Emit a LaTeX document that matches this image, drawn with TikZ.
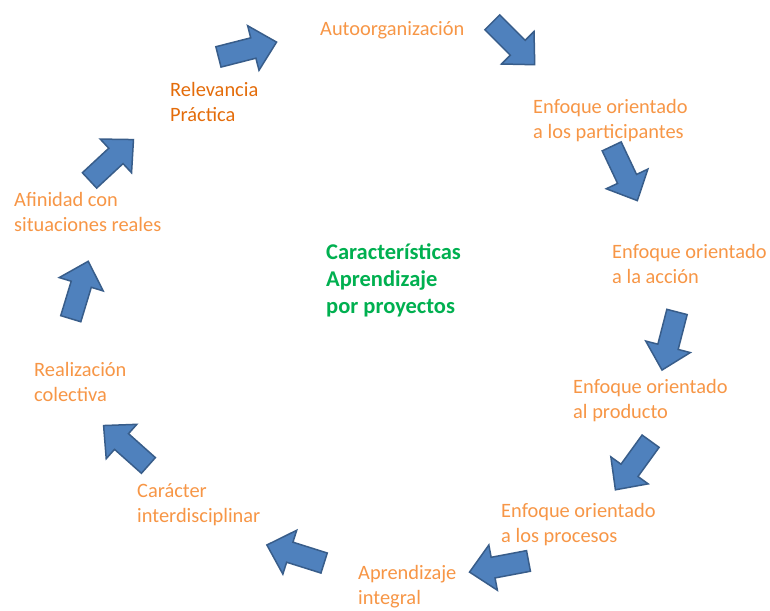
\documentclass[tikz,border=0pt]{standalone}
\usepackage{fontspec}
\setmainfont{Carlito}
\definecolor{arrfill}{HTML}{4F81BD}
\definecolor{arrline}{HTML}{385D8A}
\definecolor{lorange}{HTML}{F79646}
\definecolor{dorange}{HTML}{E46C0A}
\definecolor{cgreen}{HTML}{00B050}
\tikzset{
  blockarrow/.pic={
    \draw[fill=arrfill, draw=arrline, line width=1.5pt, line join=miter]
      (-30,-10.5) -- (6,-10.5) -- (6,-23) -- (30,0) -- (6,23) -- (6,10.5) -- (-30,10.5) -- cycle;
  },
  lab/.style={anchor=west, inner sep=0pt, align=left, text=lorange,
    font=\fontsize{20.4}{25}\selectfont},
  labdark/.style={lab, text=dorange},
  centerlab/.style={anchor=west, inner sep=0pt, align=left, text=cgreen,
    font=\fontsize{22.5}{27}\selectfont\bfseries}
}
\begin{document}
\begin{tikzpicture}[x=1pt,y=-1pt]
\useasboundingbox (0,0) rectangle (770,610);
\fill[white] (0,0) rectangle (770,610);
% arrows
\pic[rotate=14.3]   at (247.5,49.5) {blockarrow};
\pic[rotate=-45]    at (513.5,43.5) {blockarrow};
\pic[rotate=-64.7]  at (624.5,173.5) {blockarrow};
\pic[rotate=-104.5] at (669.5,341) {blockarrow};
\pic[rotate=-125.9] at (633,465.5) {blockarrow};
\pic[rotate=-169.3] at (499,566.5) {blockarrow};
\pic[rotate=162.5]  at (295.5,554) {blockarrow};
\pic[rotate=138.3]  at (126,445.5) {blockarrow};
\pic[rotate=73.1]   at (79.5,290) {blockarrow};
\pic[rotate=42.9]   at (111.5,160) {blockarrow};
% labels
\node[lab] (auto) at (320,30) {Autoorganización};
\node[lab] (part) at (533,120.5) {Enfoque orientado\\a los participantes};
\node[lab] (acc) at (612,264) {Enfoque orientado\\a la acción};
\node[lab] (prod) at (573,400.5) {Enfoque orientado\\al producto};
\node[lab] (proc) at (501,525) {Enfoque orientado\\a los procesos};
\node[lab] (integ) at (358,587) {Aprendizaje\\integral};
\node[lab] (inter) at (137,505) {Carácter\\interdisciplinar};
\node[lab] (colec) at (34,382) {Realización\\colectiva};
\node[lab] (afin) at (14,212) {Afinidad con\\situaciones reales};
\node[labdark] (relev) at (170,102) {Relevancia\\Práctica};
\node[centerlab] (center) at (326,280.5) {Características\\Aprendizaje\\por proyectos};
\end{tikzpicture}
\end{document}
